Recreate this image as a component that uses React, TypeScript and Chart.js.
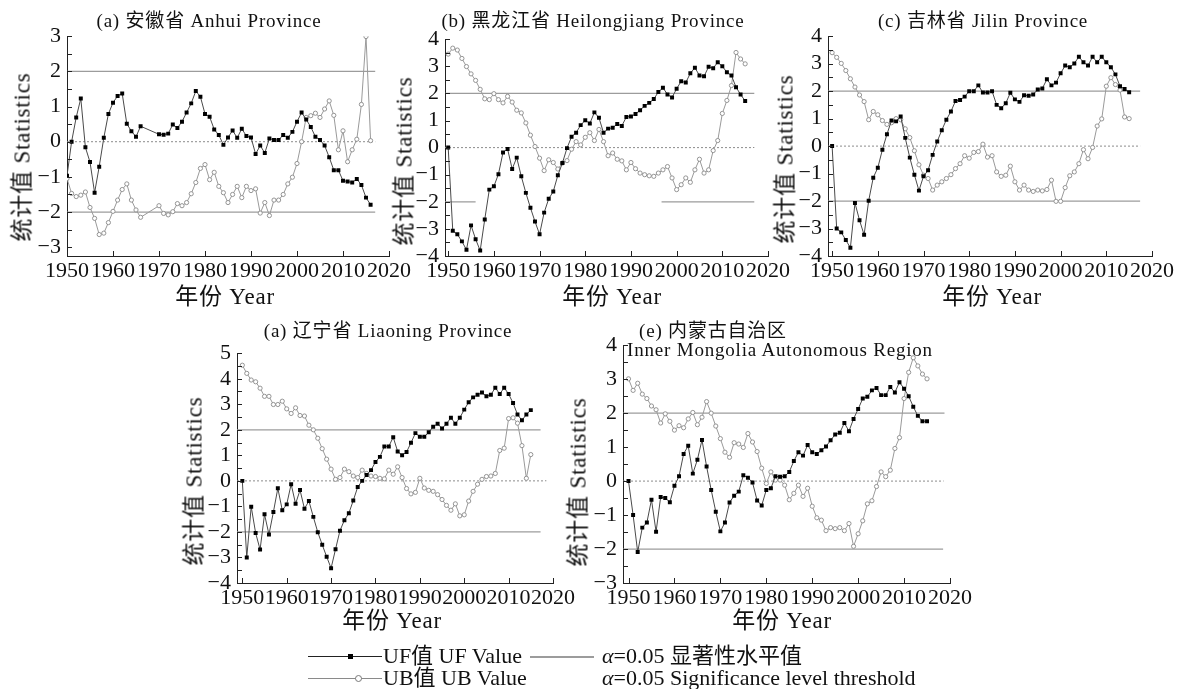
import React, { useEffect, useRef } from "react";
import { Chart, registerables } from "chart.js";
Chart.register(...registerables);

const FONT = '"Liberation Serif", "Times New Roman", "Noto Sans CJK SC", serif';

// ---------- data ----------
const YEARS_A = [1950,1951,1952,1953,1954,1955,1956,1957,1958,1959,1960,1961,1962,1963,1964,1965,1966,
  1970,1971,1972,1973,1974,1975,1976,1977,1978,1979,1980,1981,1982,1983,1984,1985,1986,1987,1988,1989,
  1990,1991,1992,1993,1994,1995,1996,1997,1998,1999,2000,2001,2002,2003,2004,2005,2006,2007,2008,2009,
  2010,2011,2012,2013,2014,2015,2016];
const UF_A = [-0.97,0,0.69,1.23,-0.16,-0.58,-1.45,-0.71,0.11,0.79,1.11,1.3,1.37,0.51,0.3,0.14,0.44,
  0.21,0.2,0.23,0.49,0.39,0.57,0.83,1.09,1.44,1.28,0.79,0.71,0.35,0.19,-0.09,0.12,0.32,0.11,0.37,0.16,
  0.12,-0.35,-0.11,-0.32,0.09,0.05,0.05,0.19,0.11,0.28,0.57,0.83,0.63,0.42,0.14,0.05,-0.11,-0.44,-0.81,-0.81,
  -1.11,-1.13,-1.16,-1.06,-1.23,-1.59,-1.79];
const UB_A = [-1.05,-1.47,-1.56,-1.52,-1.43,-1.87,-2.18,-2.64,-2.6,-2.3,-1.98,-1.66,-1.36,-1.2,-1.66,-1.94,-2.15,
  -1.82,-2.04,-2.08,-1.99,-1.76,-1.82,-1.73,-1.48,-1.16,-0.76,-0.65,-1.08,-0.87,-1.27,-1.45,-1.73,-1.5,-1.27,-1.59,-1.27,
  -1.39,-1.34,-2.03,-1.73,-2.1,-1.66,-1.66,-1.5,-1.2,-1.01,-0.62,0,0.69,0.74,0.81,0.69,0.93,1.16,0.75,-0.23,
  0.31,-0.57,-0.23,0.07,1.06,2.99,0.03];

const YEARS = [1950,1951,1952,1953,1954,1955,1956,1957,1958,1959,1960,1961,1962,1963,1964,1965,1966,1967,1968,1969,
  1970,1971,1972,1973,1974,1975,1976,1977,1978,1979,1980,1981,1982,1983,1984,1985,1986,1987,1988,1989,
  1990,1991,1992,1993,1994,1995,1996,1997,1998,1999,2000,2001,2002,2003,2004,2005,2006,2007,2008,2009,
  2010,2011,2012,2013,2014,2015];

const UF_B = [0,-3.07,-3.2,-3.46,-3.77,-2.87,-3.38,-3.8,-2.65,-1.55,
  -1.43,-0.98,-0.18,-0.05,-0.79,-0.37,-1.06,-1.67,-2.22,-2.73,
  -3.2,-2.4,-1.89,-1.62,-1.02,-0.57,-0.02,0.4,0.55,0.83,
  1.01,0.89,1.3,1.1,0.55,0.7,0.73,0.87,0.8,1.13,
  1.15,1.24,1.38,1.54,1.65,1.79,2.05,2.21,1.96,1.85,
  2.17,2.45,2.4,2.74,2.95,2.66,2.63,2.98,2.93,3.15,
  3.0,2.78,2.66,2.23,1.96,1.72];
const UB_B = [3.45,3.67,3.6,3.29,2.99,2.72,2.48,2.15,1.8,1.77,
  1.99,1.77,1.65,1.89,1.68,1.38,1.28,0.91,0.46,0.04,
  -0.39,-0.85,-0.45,-0.55,-0.79,-0.57,-0.48,-0.06,0.22,0.1,
  0.38,0.55,0.26,0.67,0.22,-0.3,-0.2,-0.43,-0.49,-0.82,
  -0.55,-0.78,-0.94,-1.0,-1.04,-1.06,-0.94,-0.82,-0.7,-1.12,
  -1.55,-1.37,-1.12,-1.28,-0.82,-0.43,-0.94,-0.82,-0.11,0.26,
  1.26,1.74,2.29,3.51,3.27,3.09];

const UF_C = [0,-3.0,-3.14,-3.42,-3.7,-2.07,-2.7,-3.23,-1.99,-1.15,
  -0.79,-0.13,0.43,0.93,0.9,1.08,0.3,-0.42,-1.04,-1.62,
  -1.1,-0.88,-0.32,0.17,0.58,0.96,1.26,1.64,1.68,1.8,
  2.0,2.0,2.21,1.95,1.95,2.0,1.5,1.38,1.56,1.94,
  1.7,1.61,1.85,1.83,1.88,2.06,2.1,2.43,2.21,2.31,
  2.65,2.93,2.87,3.01,3.25,3.05,2.93,3.25,3.05,3.25,
  3.05,2.87,2.61,2.18,2.08,1.96];
const UB_C = [3.4,3.23,3.01,2.75,2.45,2.15,1.86,1.62,0.96,1.26,
  1.14,0.93,0.79,0.85,1.0,0.96,0.63,0.31,-0.17,-0.68,
  -1.06,-1.18,-1.6,-1.42,-1.3,-1.18,-1.04,-0.82,-0.64,-0.35,
  -0.44,-0.23,-0.2,0.07,-0.4,-0.35,-0.94,-1.1,-1.06,-0.73,
  -1.3,-1.6,-1.42,-1.6,-1.65,-1.6,-1.63,-1.58,-1.24,-2.01,
  -2.01,-1.51,-1.08,-0.94,-0.64,-0.13,-0.46,-0.05,0.73,0.99,
  2.18,2.49,2.24,2.04,1.06,1.0];

const UF_D = [0,-3.0,-1.01,-2.04,-2.69,-1.31,-2.1,-1.22,-0.29,-1.15,
  -0.92,-0.13,-0.9,-0.36,-1.09,-0.79,-1.41,-2.01,-2.5,-2.97,
  -3.42,-2.68,-1.95,-1.54,-1.27,-0.77,-0.24,0.0,0.23,0.42,
  0.74,0.94,1.35,1.35,1.71,1.15,1.0,1.13,1.49,1.87,
  1.73,1.73,1.9,2.12,2.24,2.05,2.24,2.47,2.24,2.47,
  2.79,3.08,3.27,3.37,3.46,3.31,3.37,3.65,3.4,3.65,
  3.4,3.05,2.6,2.37,2.6,2.77];
const UB_D = [4.53,4.21,3.95,3.88,3.63,3.31,3.31,2.99,2.99,3.12,
  2.82,2.64,2.86,2.56,2.54,2.18,2.0,1.67,1.26,0.85,
  0.46,0.06,0.13,0.46,0.36,0.19,0.13,0.42,0.29,0.19,
  0.17,0.1,0.08,0.42,0.26,0.55,0.13,-0.3,-0.51,-0.45,
  0.1,-0.28,-0.37,-0.41,-0.54,-0.73,-0.96,-1.15,-0.9,-1.37,
  -1.33,-0.79,-0.41,-0.13,0.06,0.17,0.19,0.29,1.19,1.28,
  2.44,2.47,2.26,1.38,0.1,1.03];

const UF_E = [0,-1.0,-2.09,-1.37,-1.22,-0.55,-1.49,-0.47,-0.5,-0.62,
  -0.14,0.14,0.8,1.04,0.22,0.63,1.21,0.43,-0.26,-0.9,
  -1.48,-1.22,-0.63,-0.43,-0.31,0.17,0.1,-0.04,-0.57,-0.72,
  -0.26,-0.21,0.14,0.13,0.14,0.27,0.59,0.85,0.75,1.06,
  0.85,0.8,0.91,1.02,1.2,1.37,1.42,1.71,1.47,1.83,
  2.12,2.43,2.48,2.67,2.74,2.53,2.53,2.77,2.61,2.91,
  2.72,2.5,2.19,1.92,1.76,1.76];
const UB_E = [3.01,2.67,2.88,2.56,2.43,2.21,2.1,1.71,1.98,1.76,
  1.5,1.63,1.57,1.83,2.02,1.66,1.88,2.34,2.0,1.62,
  1.25,0.85,0.7,1.13,1.09,0.99,1.4,1.15,0.87,0.38,
  -0.07,0.27,0.03,0.03,-0.12,-0.55,-0.36,-0.12,-0.45,-0.21,
  -0.74,-1.08,-1.15,-1.46,-1.37,-1.4,-1.37,-1.46,-1.25,-1.92,
  -1.55,-1.17,-0.67,-0.58,-0.16,0.27,0.13,0.32,0.96,1.28,
  2.43,3.2,3.63,3.39,3.15,3.01];

const X_TICKS = [1950, 1960, 1970, 1980, 1990, 2000, 2010, 2020];
const THRESHOLD = 2;

type Seg = [number, number];
type PanelSpec = {
  L: number; R: number; T: number; B: number;
  xmin: number; xmax: number; ymin: number; ymax: number;
  years: number[]; uf: number[]; ub: number[];
  upper: Seg[]; lower: Seg[]; zero: Seg[];
};

const PANELS: PanelSpec[] = [
  { L: 67, R: 389, T: 32, B: 256, xmin: 1950, xmax: 2020, ymin: -3.25, ymax: 3,
    years: YEARS_A, uf: UF_A, ub: UB_A,
    upper: [[1950, 2017]], lower: [[1950, 2017]], zero: [[1950, 2017]] },
  { L: 445, R: 768, T: 35, B: 256, xmin: 1949.3, xmax: 2020, ymin: -4, ymax: 4,
    years: YEARS, uf: UF_B, ub: UB_B,
    upper: [[1949.3, 2017]], lower: [[1949.3, 1956], [1996.7, 2017]], zero: [[1949.3, 2017]] },
  { L: 828, R: 1152, T: 32, B: 256, xmin: 1949.1, xmax: 2020, ymin: -4, ymax: 4,
    years: YEARS, uf: UF_C, ub: UB_C,
    upper: [[1949.1, 2017.4]], lower: [[1949.1, 2017.4]], zero: [[1949.1, 2017.4]] },
  { L: 237, R: 553, T: 349, B: 583, xmin: 1948.8, xmax: 2020, ymin: -4, ymax: 5,
    years: YEARS, uf: UF_D, ub: UB_D,
    upper: [[1948.8, 2017.2]], lower: [[1948.8, 2017.2]], zero: [[1948.8, 2018.5]] },
  { L: 623, R: 950, T: 341, B: 583, xmin: 1948.8, xmax: 2020, ymin: -3, ymax: 4,
    years: YEARS, uf: UF_E, ub: UB_E,
    upper: [[1948.8, 2018.8]], lower: [[1948.8, 2018.5]], zero: [[1948.8, 2018.6]] },
];

function segData(segs: Seg[], y: number) {
  const out: { x: number; y: number | null }[] = [];
  segs.forEach((s, i) => {
    if (i > 0) out.push({ x: (segs[i - 1][1] + s[0]) / 2, y: null });
    out.push({ x: s[0], y });
    out.push({ x: s[1], y });
  });
  return out;
}

const inwardTicks = {
  id: "inwardTicks",
  afterDraw(chart: any) {
    const { ctx, chartArea, scales } = chart;
    const x = scales.x, y = scales.y;
    ctx.save();
    ctx.strokeStyle = "#222";
    ctx.lineWidth = 1;
    ctx.beginPath();
    for (const t of y.ticks) {
      const py = Math.round(y.getPixelForValue(t.value)) + 0.5;
      ctx.moveTo(chartArea.left, py);
      ctx.lineTo(chartArea.left + 5, py);
    }
    for (const t of x.ticks) {
      const px = Math.round(x.getPixelForValue(t.value)) + 0.5;
      ctx.moveTo(px, chartArea.bottom);
      ctx.lineTo(px, chartArea.bottom - 5);
    }
    ctx.stroke();
    ctx.restore();
  },
};

const PAD_L = 60, PAD_T = 15, PAD_R = 30, PAD_B = 40;

function Panel({ spec }: { spec: PanelSpec }) {
  const ref = useRef<HTMLCanvasElement>(null);
  const w = spec.R - spec.L + PAD_L + PAD_R;
  const h = spec.B - spec.T + PAD_T + PAD_B;
  useEffect(() => {
    const yTicks: number[] = [];
    for (let v = Math.ceil(spec.ymin * 2) / 2; v <= spec.ymax + 1e-9; v += 0.5) yTicks.push(v);
    const chart = new Chart(ref.current as HTMLCanvasElement, {
      type: "line",
      data: {
        datasets: [
          {
            label: "UF",
            data: spec.years.map((x, i) => ({ x, y: spec.uf[i] })),
            borderColor: "#4a4a4a",
            borderWidth: 1,
            pointStyle: "rect",
            pointRadius: 2.8,
            pointBackgroundColor: "#000",
            pointBorderColor: "#000",
            pointBorderWidth: 0,
            tension: 0,
          },
          {
            label: "UB",
            data: spec.years.map((x, i) => ({ x, y: spec.ub[i] })),
            borderColor: "#9a9a9a",
            borderWidth: 1,
            pointStyle: "circle",
            pointRadius: 2.1,
            pointBackgroundColor: "#fff",
            pointBorderColor: "#8a8a8a",
            pointBorderWidth: 0.9,
            tension: 0,
          },
          {
            label: "upper",
            data: segData(spec.upper, THRESHOLD),
            borderColor: "#9c9c9c",
            borderWidth: 1.3,
            pointRadius: 0,
            spanGaps: false,
          },
          {
            label: "lower",
            data: segData(spec.lower, -THRESHOLD),
            borderColor: "#9c9c9c",
            borderWidth: 1.3,
            pointRadius: 0,
            spanGaps: false,
          },
          {
            label: "zero",
            data: segData(spec.zero, 0),
            borderColor: "#8c8c8c",
            borderWidth: 1,
            borderDash: [2, 2],
            pointRadius: 0,
          },
        ],
      },
      options: {
        animation: false,
        responsive: false,
        devicePixelRatio: 1,
        events: [],
        layout: { padding: { left: 0, top: PAD_T, right: PAD_R, bottom: 0 } },
        plugins: { legend: { display: false }, tooltip: { enabled: false }, title: { display: false } },
        scales: {
          x: {
            type: "linear",
            min: spec.xmin,
            max: spec.xmax,
            afterBuildTicks: (s: any) => { s.ticks = X_TICKS.map((v) => ({ value: v })); },
            afterFit: (s: any) => { s.height = PAD_B; },
            grid: { display: true, drawOnChartArea: false, drawTicks: false },
            border: { display: true, color: "#222", width: 1 },
            ticks: {
              font: { family: FONT, size: 22 },
              color: "#111",
              padding: 2,
              maxRotation: 0,
              autoSkip: false,
              callback: (v: any) => String(v),
            },
          },
          y: {
            type: "linear",
            min: spec.ymin,
            max: spec.ymax,
            afterBuildTicks: (s: any) => { s.ticks = yTicks.map((v) => ({ value: v })); },
            afterFit: (s: any) => { s.width = PAD_L; },
            grid: { display: true, drawOnChartArea: false, drawTicks: false },
            border: { display: true, color: "#222", width: 1 },
            ticks: {
              font: { family: FONT, size: 22 },
              color: "#111",
              padding: 6,
              autoSkip: false,
              callback: (v: any) => {
                const n = Number(v);
                if (!Number.isInteger(n)) return "";
                return n < 0 ? "\u2212" + Math.abs(n) : String(n);
              },
            },
          },
        },
      },
      plugins: [inwardTicks],
    } as any);
    return () => chart.destroy();
  }, []);
  return (
    <canvas
      ref={ref}
      width={w}
      height={h}
      style={{ position: "absolute", left: spec.L - PAD_L, top: spec.T - PAD_T, width: w, height: h }}
    />
  );
}

const textBase: React.CSSProperties = {
  position: "absolute",
  whiteSpace: "nowrap",
  fontFamily: FONT,
  color: "#111",
  lineHeight: 1,
};

function Label({ x, y, size, text, rotate, ls }: { x: number; y: number; size: number; text: React.ReactNode; rotate?: boolean; ls?: number }) {
  return (
    <div
      style={{
        ...textBase,
        left: x,
        top: y,
        fontSize: size,
        letterSpacing: ls ?? 0,
        transform: `translate(-50%, -50%)${rotate ? " rotate(-90deg)" : ""}`,
      }}
    >
      {text}
    </div>
  );
}

const TITLES = [
  { x: 209, y: 20, t: "(a) 安徽省 Anhui Province" },
  { x: 593, y: 20, t: "(b) 黑龙江省 Heilongjiang Province" },
  { x: 983, y: 20, t: "(c) 吉林省 Jilin Province" },
  { x: 388, y: 330, t: "(a) 辽宁省 Liaoning Province" },
  { x: 713, y: 330, t: "(e) 内蒙古自治区" },
  { x: 780, y: 349, t: "Inner Mongolia Autonomous Region" },
];
const Y_TITLES = [ [22, 157], [404, 161], [785, 159], [194, 481], [578, 482] ];
const X_TITLES = [ [225, 296], [612, 296], [992, 296], [392, 620], [782, 620] ];

const LEGEND_FS = 22;

export default function App() {
  return (
    <div style={{ position: "absolute", left: 0, top: 0, width: 1180, height: 689, background: "#fff", overflow: "hidden" }}>
      {PANELS.map((p, i) => <Panel key={i} spec={p} />)}
      {TITLES.map((t, i) => <Label key={"t" + i} x={t.x} y={t.y} size={19} ls={0.8} text={t.t} />)}
      {Y_TITLES.map((p, i) => <Label key={"y" + i} x={p[0]} y={p[1]} size={23} ls={0.8} rotate text="统计值 Statistics" />)}
      {X_TITLES.map((p, i) => <Label key={"x" + i} x={p[0]} y={p[1]} size={23} ls={0.8} text="年份 Year" />)}
      {/* legend */}
      <div style={{ position: "absolute", left: 308, top: 656, width: 74, height: 1, background: "#222" }} />
      <div style={{ position: "absolute", left: 348, top: 654, width: 5, height: 5, background: "#000" }} />
      <div style={{ ...textBase, left: 383, top: 645, fontSize: LEGEND_FS }}>UF值 UF Value</div>
      <div style={{ position: "absolute", left: 530, top: 656, width: 64, height: 1.5, background: "#9c9c9c" }} />
      <div style={{ ...textBase, left: 602, top: 645, fontSize: LEGEND_FS }}><i>α</i>=0.05 显著性水平值</div>
      <div style={{ position: "absolute", left: 308, top: 678, width: 74, height: 1, background: "#8a8a8a" }} />
      <div style={{ position: "absolute", left: 355, top: 675, width: 5, height: 5, borderRadius: "50%", border: "1px solid #777", background: "#fff" }} />
      <div style={{ ...textBase, left: 383, top: 667, fontSize: LEGEND_FS }}>UB值 UB Value</div>
      <div style={{ ...textBase, left: 602, top: 667, fontSize: LEGEND_FS }}><i>α</i>=0.05 Significance level threshold</div>
    </div>
  );
}
